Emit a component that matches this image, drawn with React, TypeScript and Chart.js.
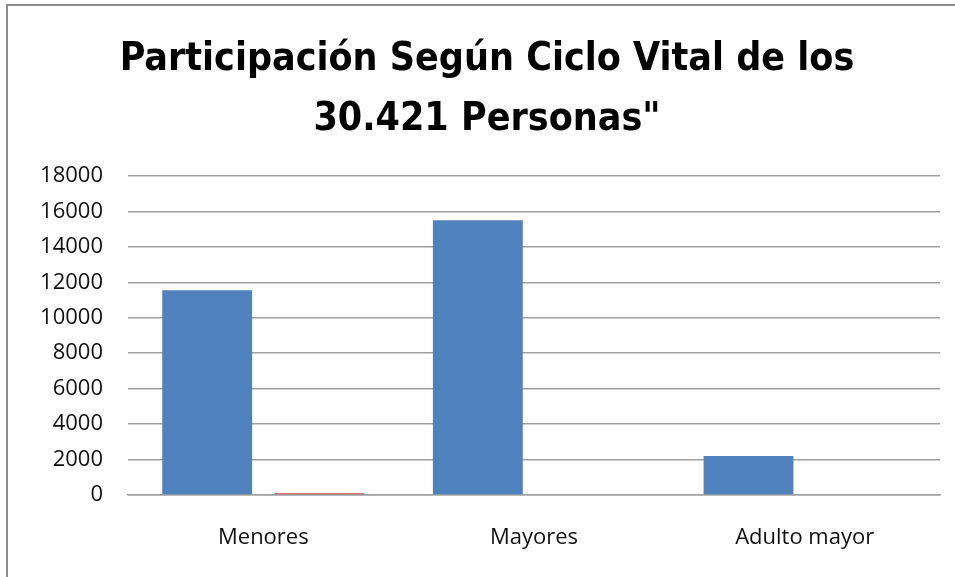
import React, { useEffect, useRef } from "react";
import { Chart, registerables } from "chart.js";

Chart.register(...registerables);

const titleLines = ["Participación Según Ciclo Vital de los", "30.421 Personas\""];
const categories = ["Menores", "Mayores", "Adulto mayor"];
const series1 = [11550, 15500, 2200];
const series2 = [100, 0, 0];
const yMin = 0;
const yMax = 18000;
const yStep = 2000;

export default function App() {
  const ref = useRef<HTMLCanvasElement | null>(null);

  useEffect(() => {
    if (!ref.current) return;
    const chart = new Chart(ref.current, {
      type: "bar",
      data: {
        labels: categories,
        datasets: [
          {
            label: "Serie 1",
            data: series1,
            backgroundColor: "#4F81BD",
            categoryPercentage: 0.83,
            barPercentage: 0.8,
          },
          {
            label: "Serie 2",
            data: series2,
            backgroundColor: "#C0504D",
            categoryPercentage: 0.83,
            barPercentage: 0.8,
          },
        ],
      },
      options: {
        animation: false,
        responsive: false,
        maintainAspectRatio: false,
        layout: { padding: { left: 34, right: 15, top: 0, bottom: 0 } },
        plugins: {
          legend: { display: false },
          tooltip: { enabled: false },
          title: {
            display: true,
            text: titleLines,
            color: "#000",
            font: {
              family: "'Liberation Sans Narrow', 'DejaVu Sans Condensed', 'Liberation Sans', sans-serif",
              size: 39,
              weight: "bold",
              lineHeight: "60px" as any,
            },
            padding: { top: 30, bottom: 26 },
          },
        },
        scales: {
          x: {
            grid: { display: false, drawTicks: false },
            border: { display: true, color: "#a0a0a0", width: 1.5 },
            ticks: {
              color: "#111",
              padding: 30,
              font: { family: "'Open Sans', sans-serif", size: 22 },
              maxRotation: 0,
            },
            afterFit: (s: any) => {
              s.height = 82;
            },
          },
          y: {
            min: yMin,
            max: yMax,
            grid: { color: "#a0a0a0", lineWidth: 1.5, drawTicks: false },
            border: { display: false },
            ticks: {
              stepSize: yStep,
              color: "#111",
              padding: 25,
              font: { family: "'Open Sans', sans-serif", size: 22 },
              callback: (v: any) => String(v),
            },
            afterFit: (s: any) => {
              s.width = 94;
            },
          },
        },
      },
    });
    return () => chart.destroy();
  }, []);

  return (
    <div style={{ position: "absolute", left: 0, top: 0, width: 955, height: 577, background: "#fff" }}>
      <div style={{ position: "absolute", left: 6, top: 4, right: 0, bottom: 0, borderTop: "2px solid #8c8c8c", borderLeft: "2px solid #8c8c8c" }} />
      <canvas ref={ref} width={955} height={577} style={{ position: "absolute", left: 0, top: 0 }} />
    </div>
  );
}
